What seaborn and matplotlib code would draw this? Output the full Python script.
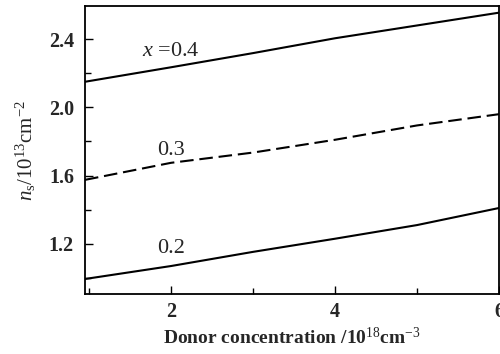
import matplotlib
matplotlib.use("Agg")
import matplotlib.pyplot as plt
from matplotlib.ticker import MultipleLocator, FormatStrFormatter
import seaborn as sns
import pandas as pd

sns.set_theme(style="ticks")
plt.rcParams["font.family"] = ["Liberation Serif", "DejaVu Serif"]
plt.rcParams["mathtext.fontset"] = "custom"
plt.rcParams["mathtext.rm"] = "Liberation Serif"
plt.rcParams["mathtext.it"] = "Liberation Serif:italic"
plt.rcParams["mathtext.bf"] = "Liberation Serif:bold"

# Donor concentration (10^18 cm^-3)
donor = [0.95, 2, 3, 4, 5, 6]
# Sheet density n_s (10^13 cm^-2) for each Al fraction x
ns_x04 = [2.150, 2.235, 2.318, 2.405, 2.480, 2.555]
ns_x03 = [1.575, 1.675, 1.735, 1.810, 1.894, 1.960]
ns_x02 = [0.994, 1.070, 1.153, 1.230, 1.310, 1.410]
curve_labels = ["$x$ =0.4", "0.3", "0.2"]

df = pd.concat([
    pd.DataFrame({"donor": donor, "ns": ns_x04, "x": "0.4"}),
    pd.DataFrame({"donor": donor, "ns": ns_x03, "x": "0.3"}),
    pd.DataFrame({"donor": donor, "ns": ns_x02, "x": "0.2"}),
])

fig = plt.figure(figsize=(5.0, 3.54), dpi=100)
ax = fig.add_axes([0.17, 0.1695, 0.828, 0.8135])

sns.lineplot(data=df, x="donor", y="ns", hue="x", style="x",
             palette={"0.4": "black", "0.3": "black", "0.2": "black"},
             dashes={"0.4": "", "0.3": (6.5, 2.8), "0.2": ""},
             linewidth=1.5, legend=False, ax=ax)

ax.set_xlim(0.95, 6.0)
ax.set_ylim(0.906, 2.594)
ax.xaxis.set_major_locator(MultipleLocator(2))
ax.xaxis.set_minor_locator(MultipleLocator(1))
ax.yaxis.set_major_locator(MultipleLocator(0.4))
ax.yaxis.set_minor_locator(MultipleLocator(0.2))
ax.tick_params(axis="both", which="both", direction="in", top=False, right=False,
               labelsize=14.5, width=1.0, color="black")
ax.tick_params(axis="y", which="major", length=6, pad=8)
ax.tick_params(axis="x", which="major", length=6, pad=6)
ax.tick_params(which="minor", length=4)
ax.yaxis.set_major_formatter(FormatStrFormatter("%.1f"))
ax.xaxis.set_major_formatter(FormatStrFormatter("%d"))
for lbl in ax.get_xticklabels() + ax.get_yticklabels():
    lbl.set_fontweight("bold")

for s in ax.spines.values():
    s.set_color("black")
    s.set_linewidth(1.3)

ax.text(2.0, 2.27, curve_labels[0], fontsize=16, ha="center", va="bottom")
ax.text(2.0, 1.69, curve_labels[1], fontsize=16, ha="center", va="bottom")
ax.text(2.0, 1.115, curve_labels[2], fontsize=16, ha="center", va="bottom")

ax.set_xlabel(r"Donor concentration /10$^{18}$cm$^{-3}$", fontsize=14,
              fontweight="bold", labelpad=3)
ax.set_ylabel(r"$n_{\rm s}$/10$^{13}$cm$^{-2}$", fontsize=15, labelpad=8)

fig.savefig("out.png", dpi=100)
